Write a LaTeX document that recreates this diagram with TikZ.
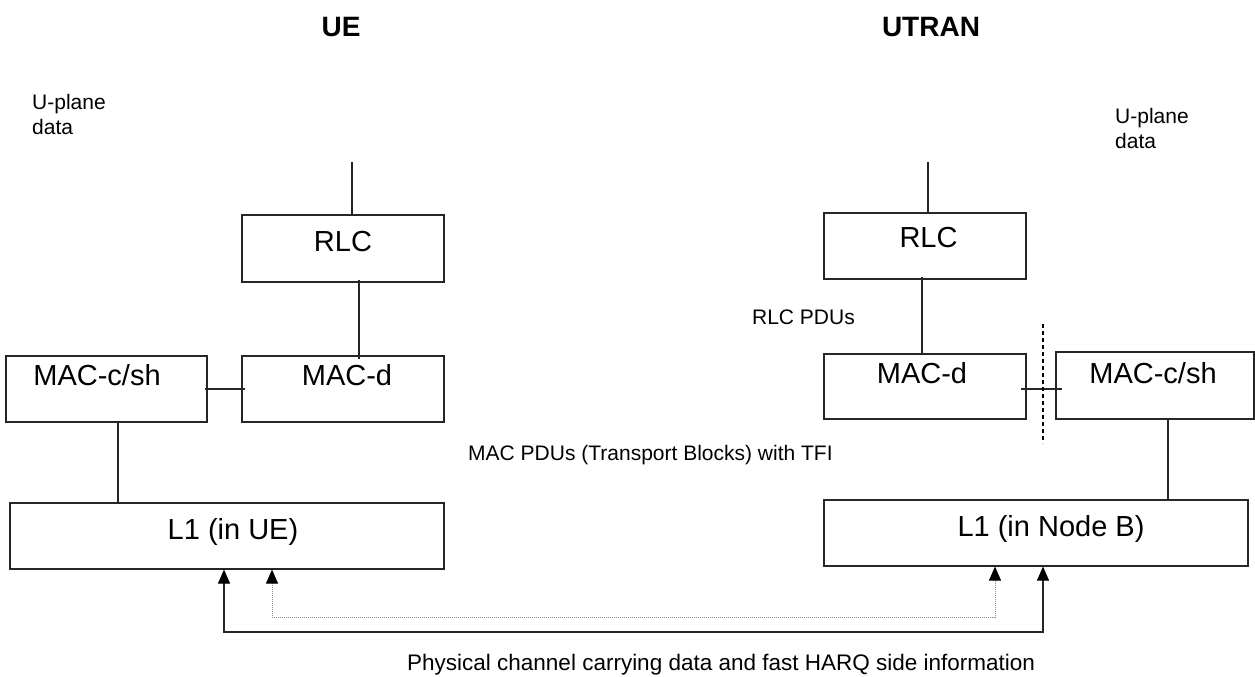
\documentclass[tikz,border=0pt]{standalone}
\usepackage{fontspec}
\setmainfont{Liberation Sans}
\usetikzlibrary{arrows.meta}
\tikzset{
  box/.style={draw=black!85, line width=1.1pt, inner sep=0pt},
  boxtext/.style={inner sep=0pt, font=\fontsize{29}{34}\selectfont},
  title/.style={inner sep=0pt, font=\fontsize{28}{33}\selectfont\bfseries},
  small/.style={inner sep=0pt, font=\fontsize{21}{25}\selectfont},
  conn/.style={draw=black!85, line width=1.1pt},
  sarrow/.style={draw=black!85, line width=1.1pt, {Triangle[length=14pt,width=12pt,black]}-{Triangle[length=14pt,width=12pt,black]}},
  darrow/.style={draw=black!45, line width=1pt, dash pattern=on 1pt off 1pt, {Triangle[length=14pt,width=12pt,black]}-{Triangle[length=14pt,width=12pt,black]}},
}
\begin{document}
\begin{tikzpicture}[x=1pt,y=-1pt]
\useasboundingbox[fill=white] (0,0) rectangle (1255,677);

% titles
\node[title] (tUE) at (341,27) {UE};
\node[title] (tUTRAN) at (931,27) {UTRAN};

% small labels
\node[small, anchor=west, align=left] (upU) at (32,114.5) {U-plane\\data};
\node[small, anchor=west, align=left] (upR) at (1115,128) {U-plane\\data};
\node[small, anchor=east] (rlcpdu) at (855,317.5) {RLC PDUs};
\node[small, anchor=west] (macpdu) at (468,455) {MAC PDUs (Transport Blocks) with TFI};
\node[inner sep=0pt, font=\fontsize{22.5}{26}\selectfont, anchor=west] (phys) at (407,665) {Physical channel carrying data and fast HARQ side information};

% UE side boxes
\node[box, minimum width=202pt, minimum height=67pt] (rlcU) at (343,248.5) {};
\node[boxtext] (rlcUt) at (343,242) {RLC};
\node[box, minimum width=202pt, minimum height=66pt] (macdU) at (343,389) {};
\node[boxtext] (macdUt) at (347,375) {MAC-d};
\node[box, minimum width=201pt, minimum height=66pt] (maccU) at (106.5,389) {};
\node[boxtext] (maccUt) at (97,375) {MAC-c/sh};
\node[box, minimum width=434pt, minimum height=66pt] (l1U) at (227,536) {};
\node[boxtext] (l1Ut) at (233,532) {L1 (in UE)};

% UTRAN side boxes
\node[box, minimum width=202pt, minimum height=66pt] (rlcR) at (925,246) {};
\node[boxtext] (rlcRt) at (928.5,238) {RLC};
\node[box, minimum width=202pt, minimum height=65pt] (macdR) at (925,386.5) {};
\node[boxtext] (macdRt) at (922,373) {MAC-d};
\node[box, minimum width=198pt, minimum height=67pt] (maccR) at (1155,385.5) {};
\node[boxtext] (maccRt) at (1153,373) {MAC-c/sh};
\node[box, minimum width=424pt, minimum height=66pt] (l1R) at (1036,533) {};
\node[boxtext] (l1Rt) at (1051,529) {L1 (in Node B)};

% UE connectors
\coordinate (topU) at (352,162);
\draw[conn] (topU) -- (topU |- rlcU.north);
\coordinate (rmU) at (359,280);
\draw[conn] (rmU) -- (rmU |- macdU.north) -- ++(0,4);
\coordinate (hU) at (205,389);
\draw[conn] (hU) -- (245,389);
\coordinate (ml1U) at (118,422);
\draw[conn] (ml1U |- maccU.south) -- (ml1U |- l1U.north);

% UTRAN connectors
\coordinate (topR) at (928,162);
\draw[conn] (topR) -- (topR |- rlcR.north);
\coordinate (rmR) at (922,277);
\draw[conn] (rmR) -- (rmR |- macdR.north) -- ++(0,2);
\coordinate (hRa) at (1021,389);
\coordinate (hRb) at (1062,389);
\draw[conn] (hRa) -- (hRb);
\coordinate (dashTop) at (1043,324);
\coordinate (dashBot) at (1043,443);
\draw[draw=black, line width=1.1pt, dash pattern=on 4pt off 3pt] (dashTop) -- (dashBot);
\coordinate (ml1R) at (1168,419);
\draw[conn] (ml1R |- maccR.south) -- (ml1R |- l1R.north);

% physical channel arrows
\coordinate (sL) at (224,632);
\coordinate (sR) at (1043,632);
\coordinate (dL) at (272,617);
\coordinate (dR) at (995,617);
\draw[sarrow] (sL |- l1U.south) -- (sL) -- (sR) -- (sR |- l1R.south);
\draw[darrow] (dL |- l1U.south) -- (dL) -- (dR) -- (dR |- l1R.south);
\end{tikzpicture}
\end{document}
